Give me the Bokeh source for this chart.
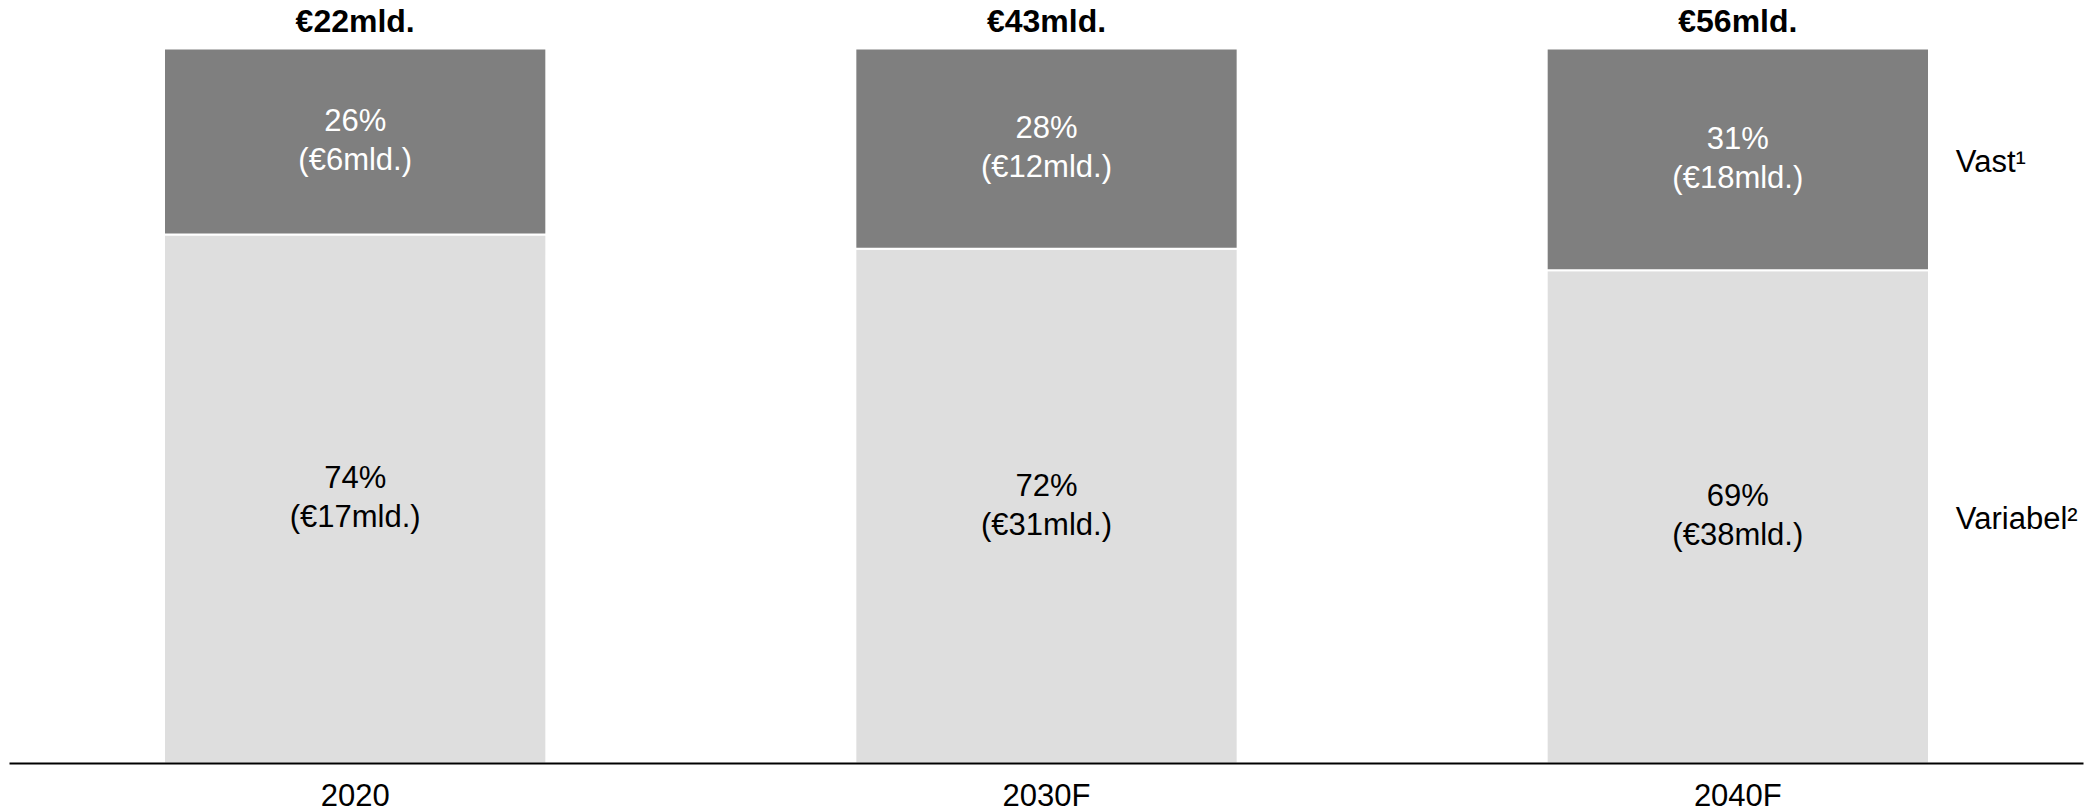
from bokeh.plotting import figure
from bokeh.models import ColumnDataSource, FactorRange, Range1d
from bokeh.core.properties import value
from bokeh.embed import file_html
from bokeh.resources import INLINE

# ---- data ----
categories = ["2020", "2030F", "2040F"]
totals = [22, 43, 56]              # € mld.
vast_pct = [26, 28, 31]
variabel_pct = [74, 72, 69]
vast_amt = [6, 12, 18]
variabel_amt = [17, 31, 38]
series_names = ["Vast\u00b9", "Variabel\u00b2"]

FONT = "Liberation Sans"
DARK = "#7f7f7f"
LIGHT = "#dedede"

src = ColumnDataSource(dict(
    cat=categories,
    var_top=variabel_pct,
    tot_top=[a + b for a, b in zip(variabel_pct, vast_pct)],
    var_mid=[v / 2 for v in variabel_pct],
    vast_mid=[a + b / 2 for a, b in zip(variabel_pct, vast_pct)],
    var_l1=[f"{v}%" for v in variabel_pct],
    var_l2=[f"(\u20ac{v}mld.)" for v in variabel_amt],
    vast_l1=[f"{v}%" for v in vast_pct],
    vast_l2=[f"(\u20ac{v}mld.)" for v in vast_amt],
    total_lbl=[f"\u20ac{t}mld." for t in totals],
))

p = figure(
    x_range=FactorRange(factors=categories, range_padding=0),
    y_range=Range1d(0, 105.6),
    frame_width=2074, frame_height=755,
    output_backend="svg", toolbar_location=None,
    min_border_left=9, min_border_right=1, min_border_top=8, min_border_bottom=0,
)
p.outline_line_color = None
p.background_fill_color = "white"
p.border_fill_color = "white"
p.xgrid.visible = False
p.ygrid.visible = False
p.yaxis.visible = False

W = 0.553
p.vbar(x="cat", bottom=0, top="var_top", width=W, source=src,
       fill_color=LIGHT, line_color="white", line_width=2)
p.vbar(x="cat", bottom="var_top", top="tot_top", width=W, source=src,
       fill_color=DARK, line_color="white", line_width=2)

common = dict(text_font=value(FONT), text_font_size="31px", text_align="center",
              text_baseline="alphabetic", source=src)
p.text(x="cat", y="var_mid", text="var_l1", y_offset=-21, text_color="black", **common)
p.text(x="cat", y="var_mid", text="var_l2", y_offset=18, text_color="black", **common)
p.text(x="cat", y="vast_mid", text="vast_l1", y_offset=-21, text_color="white", **common)
p.text(x="cat", y="vast_mid", text="vast_l2", y_offset=18, text_color="white", **common)

p.text(x="cat", y="tot_top", text="total_lbl", y_offset=-28, text_color="black",
       text_font=value(FONT), text_font_size="32px", text_font_style="bold",
       text_align="center", text_baseline="alphabetic", source=src)

# series labels on the right, at the middle of the last bar's segments
last = categories[-1]
label_y = [variabel_pct[-1] + vast_pct[-1] / 2, variabel_pct[-1] / 2]
p.text(x=[last, last], y=label_y, text=series_names, x_offset=218, y_offset=2,
       text_font=value(FONT), text_font_size="31px", text_align="left",
       text_baseline="alphabetic", text_color="black")

ax = p.xaxis[0]
ax.axis_line_color = "black"
ax.axis_line_width = 2
ax.major_tick_line_color = None
ax.minor_tick_line_color = None
ax.major_tick_out = 0
ax.major_tick_in = 0
ax.major_label_standoff = 14
ax.major_label_text_font = FONT
ax.major_label_text_font_size = "31px"
ax.major_label_text_color = "black"

html = file_html(p, INLINE)
html = html.replace("<head>", "<head><style>html,body{overflow:hidden}</style>", 1)
open("out.html", "w").write(html)
